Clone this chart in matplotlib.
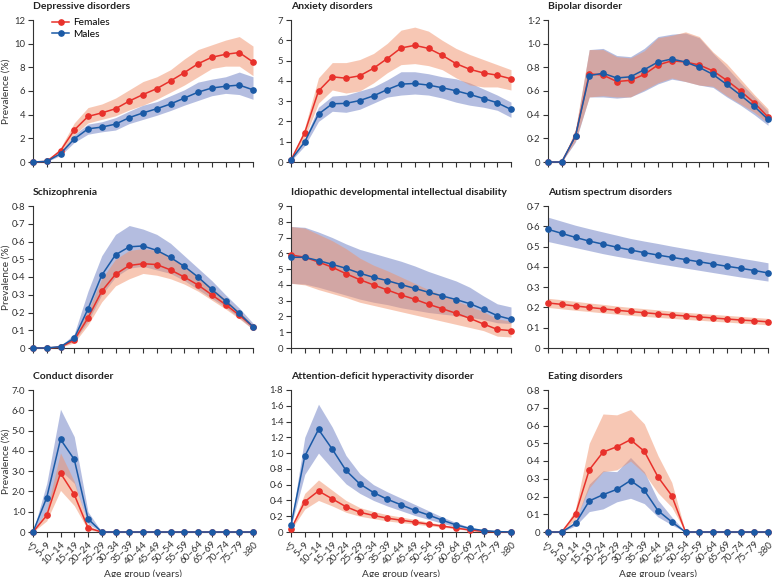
import matplotlib
matplotlib.use('Agg')
import matplotlib.pyplot as plt
import numpy as np

plt.rcParams['font.family'] = ['Lato', 'DejaVu Sans']

# age groups
ages = ['<5', '5–9', '10–14', '15–19', '20–24', '25–29', '30–34', '35–39', '40–44',
        '45–49', '50–54', '55–59', '60–64', '65–69', '70–74', '75–79', '≥80']

# Depressive disorders
dep_f = [0, 0.05, 0.95, 2.7, 3.85, 4.15, 4.5, 5.15, 5.7, 6.2, 6.85, 7.55, 8.3, 8.85, 9.1, 9.25, 8.45]
dep_f_hi = [0, 0.1, 1.2, 3.3, 4.6, 4.9, 5.4, 6.1, 6.8, 7.2, 7.8, 8.7, 9.5, 9.9, 10.3, 10.6, 9.8]
dep_f_lo = [0, 0.03, 0.75, 2.3, 3.3, 3.6, 3.9, 4.4, 4.8, 5.3, 5.9, 6.5, 7.2, 7.9, 8.1, 8.1, 7.3]
dep_m = [0, 0.05, 0.7, 1.95, 2.8, 2.95, 3.2, 3.75, 4.15, 4.5, 4.9, 5.4, 5.9, 6.25, 6.4, 6.5, 6.1]
dep_m_hi = [0, 0.08, 0.85, 2.3, 3.2, 3.4, 3.75, 4.3, 4.8, 5.1, 5.6, 6.1, 6.75, 7.0, 7.2, 7.6, 7.2]
dep_m_lo = [0, 0.03, 0.55, 1.65, 2.35, 2.55, 2.7, 3.25, 3.6, 3.95, 4.35, 4.8, 5.2, 5.6, 5.8, 5.7, 5.3]

# Anxiety disorders
anx_f = [0.1, 1.45, 3.5, 4.2, 4.13, 4.25, 4.62, 5.1, 5.62, 5.75, 5.6, 5.26, 4.85, 4.57, 4.39, 4.28, 4.1]
anx_f_hi = [0.1, 1.7, 4.15, 4.9, 4.9, 5.05, 5.35, 5.85, 6.5, 6.65, 6.45, 6.0, 5.6, 5.3, 5.05, 4.8, 4.55]
anx_f_lo = [0.05, 1.2, 2.9, 3.55, 3.4, 3.5, 3.9, 4.4, 4.8, 4.85, 4.75, 4.55, 4.15, 3.8, 3.7, 3.7, 3.55]
anx_m = [0.1, 1.0, 2.36, 2.87, 2.89, 3.03, 3.26, 3.57, 3.84, 3.87, 3.79, 3.66, 3.51, 3.33, 3.13, 2.92, 2.59]
anx_m_hi = [0.1, 1.15, 2.7, 3.25, 3.3, 3.5, 3.7, 4.05, 4.45, 4.45, 4.35, 4.2, 4.1, 3.9, 3.6, 3.3, 2.95]
anx_m_lo = [0.05, 0.8, 2.0, 2.5, 2.45, 2.6, 2.9, 3.2, 3.3, 3.35, 3.3, 3.15, 2.95, 2.8, 2.7, 2.55, 2.2]

# Bipolar disorder
bip_f = [0, 0, 0.22, 0.745, 0.735, 0.68, 0.69, 0.74, 0.82, 0.855, 0.845, 0.82, 0.77, 0.69, 0.6, 0.5, 0.38]
bip_f_hi = [0, 0, 0.28, 0.95, 0.95, 0.89, 0.88, 0.94, 1.05, 1.07, 1.1, 1.06, 0.93, 0.83, 0.7, 0.57, 0.45]
bip_f_lo = [0, 0, 0.18, 0.55, 0.56, 0.55, 0.55, 0.61, 0.67, 0.71, 0.68, 0.65, 0.64, 0.56, 0.49, 0.42, 0.33]
bip_m = [0, 0, 0.22, 0.73, 0.75, 0.71, 0.72, 0.78, 0.845, 0.87, 0.845, 0.8, 0.74, 0.655, 0.565, 0.47, 0.36]
bip_m_hi = [0, 0, 0.26, 0.95, 0.96, 0.9, 0.89, 0.96, 1.06, 1.08, 1.09, 1.05, 0.92, 0.8, 0.67, 0.55, 0.43]
bip_m_lo = [0, 0, 0.17, 0.55, 0.55, 0.54, 0.55, 0.6, 0.66, 0.7, 0.68, 0.65, 0.63, 0.55, 0.48, 0.4, 0.31]

# Schizophrenia
sch_f = [0, 0, 0.005, 0.045, 0.17, 0.32, 0.415, 0.465, 0.475, 0.47, 0.44, 0.4, 0.355, 0.3, 0.245, 0.185, 0.12]
sch_f_hi = [0, 0, 0.008, 0.06, 0.21, 0.39, 0.5, 0.55, 0.56, 0.55, 0.51, 0.46, 0.4, 0.34, 0.275, 0.205, 0.13]
sch_f_lo = [0, 0, 0.003, 0.03, 0.13, 0.26, 0.35, 0.39, 0.42, 0.41, 0.39, 0.36, 0.32, 0.27, 0.22, 0.165, 0.105]
sch_m = [0, 0, 0.008, 0.055, 0.22, 0.41, 0.525, 0.57, 0.575, 0.55, 0.51, 0.46, 0.4, 0.33, 0.265, 0.195, 0.12]
sch_m_hi = [0, 0, 0.01, 0.08, 0.32, 0.52, 0.64, 0.69, 0.67, 0.64, 0.59, 0.52, 0.45, 0.38, 0.3, 0.225, 0.14]
sch_m_lo = [0, 0, 0.005, 0.04, 0.15, 0.3, 0.4, 0.45, 0.46, 0.44, 0.42, 0.38, 0.33, 0.28, 0.23, 0.17, 0.105]

# Idiopathic developmental intellectual disability
idi_f = [5.9, 5.75, 5.45, 5.12, 4.71, 4.33, 4.0, 3.68, 3.36, 3.09, 2.77, 2.49, 2.2, 1.88, 1.52, 1.18, 1.1]
idi_f_hi = [7.7, 7.6, 7.2, 6.8, 6.3, 5.7, 5.25, 4.9, 4.5, 4.1, 3.7, 3.35, 3.0, 2.65, 2.3, 1.85, 1.7]
idi_f_lo = [4.1, 4.0, 3.7, 3.45, 3.2, 2.9, 2.7, 2.5, 2.3, 2.1, 1.9, 1.7, 1.5, 1.3, 1.1, 0.75, 0.7]
idi_m = [5.75, 5.75, 5.54, 5.3, 5.05, 4.74, 4.48, 4.27, 4.02, 3.78, 3.53, 3.3, 3.07, 2.81, 2.45, 2.05, 1.82]
idi_m_hi = [7.7, 7.65, 7.35, 7.0, 6.6, 6.25, 6.0, 5.75, 5.5, 5.2, 4.85, 4.55, 4.25, 3.85, 3.3, 2.8, 2.6]
idi_m_lo = [4.1, 4.05, 3.85, 3.6, 3.35, 3.1, 2.9, 2.75, 2.55, 2.4, 2.25, 2.15, 2.05, 1.95, 1.8, 1.6, 1.55]

# Autism spectrum disorders
aut_f = [0.222, 0.215, 0.207, 0.2, 0.193, 0.186, 0.18, 0.174, 0.168, 0.163, 0.158, 0.153, 0.148, 0.143, 0.138, 0.134, 0.129]
aut_f_hi = [0.245, 0.238, 0.23, 0.222, 0.215, 0.207, 0.2, 0.194, 0.188, 0.182, 0.176, 0.171, 0.166, 0.161, 0.156, 0.151, 0.146]
aut_f_lo = [0.2, 0.193, 0.186, 0.18, 0.173, 0.167, 0.161, 0.156, 0.151, 0.146, 0.141, 0.137, 0.132, 0.128, 0.123, 0.119, 0.114]
aut_m = [0.585, 0.565, 0.545, 0.527, 0.512, 0.497, 0.483, 0.47, 0.458, 0.447, 0.436, 0.425, 0.414, 0.403, 0.393, 0.382, 0.37]
aut_m_hi = [0.645, 0.625, 0.605, 0.588, 0.572, 0.556, 0.54, 0.527, 0.515, 0.502, 0.49, 0.478, 0.466, 0.455, 0.443, 0.432, 0.42]
aut_m_lo = [0.525, 0.51, 0.495, 0.48, 0.465, 0.452, 0.44, 0.428, 0.416, 0.405, 0.394, 0.383, 0.372, 0.361, 0.35, 0.34, 0.33]

# Conduct disorder
con_f = [0, 0.82, 2.9, 1.85, 0.2, 0, 0, 0, 0, 0, 0, 0, 0, 0, 0, 0, 0]
con_f_hi = [0, 1.1, 3.9, 2.5, 0.35, 0, 0, 0, 0, 0, 0, 0, 0, 0, 0, 0, 0]
con_f_lo = [0, 0.55, 2.05, 1.3, 0.1, 0, 0, 0, 0, 0, 0, 0, 0, 0, 0, 0, 0]
con_m = [0, 1.7, 4.57, 3.58, 0.65, 0, 0, 0, 0, 0, 0, 0, 0, 0, 0, 0, 0]
con_m_hi = [0, 2.4, 6.05, 4.7, 1.0, 0, 0, 0, 0, 0, 0, 0, 0, 0, 0, 0, 0]
con_m_lo = [0, 1.05, 3.05, 2.4, 0.4, 0, 0, 0, 0, 0, 0, 0, 0, 0, 0, 0, 0]

# Attention-deficit hyperactivity disorder
adh_f = [0.035, 0.385, 0.52, 0.42, 0.32, 0.25, 0.21, 0.175, 0.15, 0.125, 0.1, 0.075, 0.05, 0.025, 0.008, 0.002, 0]
adh_f_hi = [0.045, 0.49, 0.66, 0.53, 0.4, 0.31, 0.26, 0.22, 0.19, 0.16, 0.125, 0.095, 0.065, 0.035, 0.012, 0.003, 0]
adh_f_lo = [0.025, 0.29, 0.4, 0.33, 0.25, 0.2, 0.17, 0.14, 0.12, 0.1, 0.08, 0.06, 0.04, 0.018, 0.005, 0.001, 0]
adh_m = [0.085, 0.96, 1.3, 1.05, 0.78, 0.61, 0.5, 0.415, 0.345, 0.275, 0.215, 0.15, 0.09, 0.045, 0.018, 0.005, 0]
adh_m_hi = [0.1, 1.2, 1.62, 1.33, 0.97, 0.74, 0.6, 0.51, 0.43, 0.35, 0.27, 0.19, 0.12, 0.06, 0.025, 0.008, 0]
adh_m_lo = [0.07, 0.73, 1.0, 0.8, 0.61, 0.49, 0.4, 0.33, 0.27, 0.21, 0.16, 0.11, 0.065, 0.03, 0.012, 0.003, 0]

# Eating disorders
eat_f = [0, 0, 0.1, 0.35, 0.45, 0.48, 0.52, 0.455, 0.31, 0.205, 0, 0, 0, 0, 0, 0, 0]
eat_f_hi = [0, 0, 0.13, 0.5, 0.665, 0.66, 0.69, 0.61, 0.43, 0.28, 0, 0, 0, 0, 0, 0, 0]
eat_f_lo = [0, 0, 0.07, 0.25, 0.34, 0.35, 0.4, 0.33, 0.22, 0.14, 0, 0, 0, 0, 0, 0, 0]
eat_m = [0, 0, 0.048, 0.175, 0.21, 0.24, 0.29, 0.235, 0.12, 0.057, 0, 0, 0, 0, 0, 0, 0]
eat_m_hi = [0, 0, 0.065, 0.27, 0.345, 0.34, 0.42, 0.34, 0.18, 0.085, 0, 0, 0, 0, 0, 0, 0]
eat_m_lo = [0, 0, 0.035, 0.115, 0.13, 0.17, 0.19, 0.16, 0.085, 0.04, 0, 0, 0, 0, 0, 0, 0]

titles = ['Depressive disorders', 'Anxiety disorders', 'Bipolar disorder',
          'Schizophrenia', 'Idiopathic developmental intellectual disability', 'Autism spectrum disorders',
          'Conduct disorder', 'Attention-deficit hyperactivity disorder', 'Eating disorders']

series = [
    (dep_f, dep_f_lo, dep_f_hi, dep_m, dep_m_lo, dep_m_hi),
    (anx_f, anx_f_lo, anx_f_hi, anx_m, anx_m_lo, anx_m_hi),
    (bip_f, bip_f_lo, bip_f_hi, bip_m, bip_m_lo, bip_m_hi),
    (sch_f, sch_f_lo, sch_f_hi, sch_m, sch_m_lo, sch_m_hi),
    (idi_f, idi_f_lo, idi_f_hi, idi_m, idi_m_lo, idi_m_hi),
    (aut_f, aut_f_lo, aut_f_hi, aut_m, aut_m_lo, aut_m_hi),
    (con_f, con_f_lo, con_f_hi, con_m, con_m_lo, con_m_hi),
    (adh_f, adh_f_lo, adh_f_hi, adh_m, adh_m_lo, adh_m_hi),
    (eat_f, eat_f_lo, eat_f_hi, eat_m, eat_m_lo, eat_m_hi),
]

# y ticks: (top, step, format)
yticks = [(12, 2, '{:.0f}'), (7, 1, '{:.0f}'), (1.2, 0.2, '{:.1f}'),
          (0.8, 0.1, '{:.1f}'), (9, 1, '{:.0f}'), (0.7, 0.1, '{:.1f}'),
          (7, 1, '{:.1f}'), (1.8, 0.2, '{:.1f}'), (0.8, 0.1, '{:.1f}')]

red = '#e8312b'
blue = '#1b5aa6'
red_band = '#f1916a'
blue_band = '#6a7dc3'
txt = '#333333'

fig = plt.figure(figsize=(7.75, 5.77), dpi=100)

lefts = [33, 291, 548]
tops = [20, 206, 390]
W, H = 775, 577
AW, AH = 220, 142
x = np.arange(len(ages))

for i in range(9):
    r, c = divmod(i, 3)
    ax = fig.add_axes([lefts[c] / W, 1 - (tops[r] + AH) / H, AW / W, AH / H])
    f, flo, fhi, m, mlo, mhi = series[i]

    ax.fill_between(x, mlo, mhi, color=blue_band, alpha=0.5, lw=0)
    ax.fill_between(x, flo, fhi, color=red_band, alpha=0.5, lw=0)
    ax.plot(x, f, color=red, lw=1.1, marker='o', ms=3.8, clip_on=False, zorder=3, label='Females')
    ax.plot(x, m, color=blue, lw=1.1, marker='o', ms=3.8, clip_on=False, zorder=4, label='Males')

    top, step, fmt = yticks[i]
    ax.set_xlim(0, len(ages) - 1)
    ax.set_ylim(0, top)
    yt = np.arange(0, top + step / 2, step)
    ax.set_yticks(yt)
    ax.set_yticklabels(['0' if v == 0 else fmt.format(v).replace('.', '·') for v in yt])

    ax.set_xticks(x)
    if r == 2:
        ax.set_xticklabels(ages, rotation=45, ha='right', rotation_mode='anchor', fontsize=7, color=txt)
        ax.set_xlabel('Age group (years)', fontsize=7.3, color=txt)
        ax.xaxis.set_label_coords(0.5, -37 / AH)
    else:
        ax.set_xticklabels([])
    if c == 0:
        ax.set_ylabel('Prevalence (%)', fontsize=7.3, color=txt)
        ax.yaxis.set_label_coords(-22 / AW, 0.5)

    ax.spines['top'].set_visible(False)
    ax.spines['right'].set_visible(False)
    for s in ['left', 'bottom']:
        ax.spines[s].set_linewidth(0.8)
        ax.spines[s].set_color(txt)
    ax.tick_params(axis='both', length=3.5, width=0.8, color=txt, pad=2)
    ax.tick_params(axis='y', labelsize=6.8, labelcolor=txt)

    ax.text(0, 1 + 11 / AH, titles[i], transform=ax.transAxes, fontsize=7.5,
            fontweight='bold', color='#222222', ha='left', va='baseline')

    if i == 0:
        ax.legend(loc='upper left', bbox_to_anchor=(0.07, 1.04), frameon=False, fontsize=7.3,
                  handlelength=1.6, handletextpad=0.4, labelspacing=0.2, borderaxespad=0)

fig.savefig('out.png', dpi=100)
